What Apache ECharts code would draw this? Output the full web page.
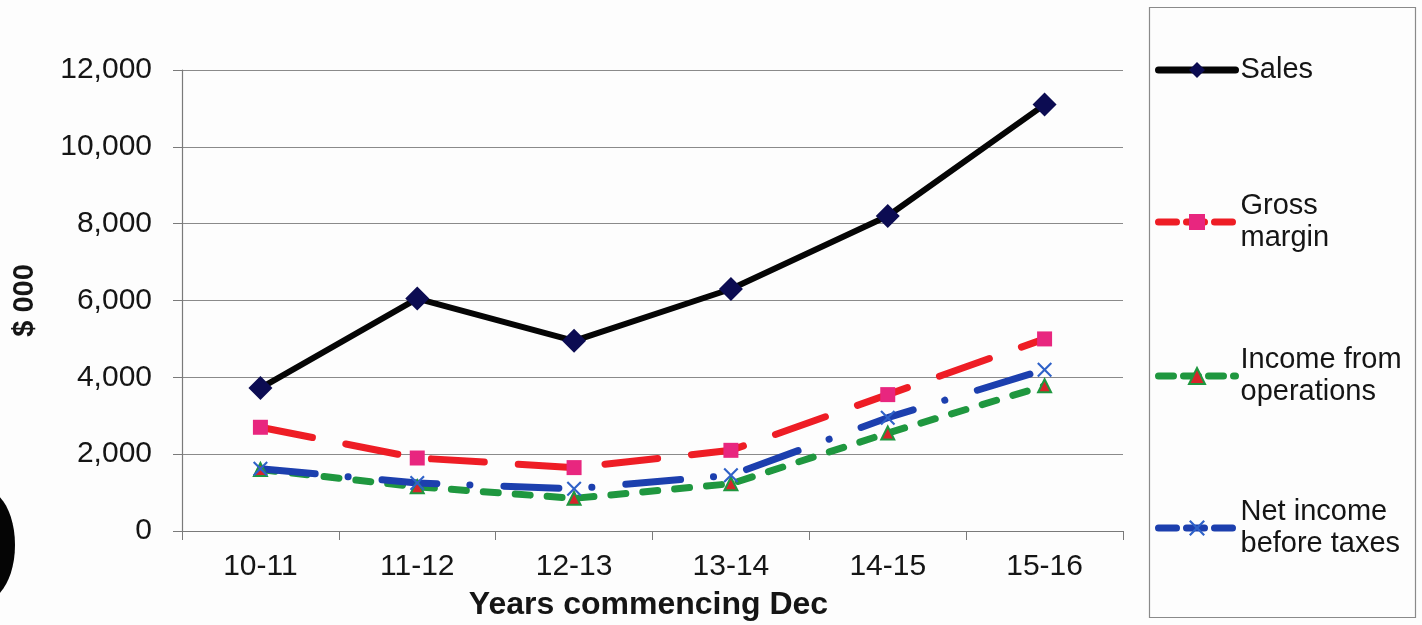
<!DOCTYPE html>
<html>
<head>
<meta charset="utf-8">
<title>Sales and income</title>
<script src="https://cdn.jsdelivr.net/npm/echarts@6/dist/echarts.min.js"></script>
<style>
  html, body { margin: 0; padding: 0; background: #fdfdfd; }
  #chart { width: 1422px; height: 625px; }
</style>
</head>
<body>
<div id="chart"></div>
<script>
// Years (commencing December)
const years = ['10-11', '11-12', '12-13', '13-14', '14-15', '15-16'];

// Values in $ 000
const sales = [3720, 6050, 4950, 6300, 8200, 11100];
const grossMargin = [2700, 1900, 1650, 2100, 3550, 5000];
const incomeFromOperations = [1600, 1150, 850, 1230, 2550, 3780];
const netIncomeBeforeTaxes = [1620, 1250, 1100, 1450, 2950, 4200];

// Y axis ticks
const yTicks = [0, 2000, 4000, 6000, 8000, 10000, 12000];

const FONT = '"Liberation Sans", Arial, sans-serif';
const TEXT = '#151515';

const chart = echarts.init(document.getElementById('chart'), null, { renderer: 'canvas' });

const crossPath = 'path://M0,1 L1,0 L5,4 L9,0 L10,1 L6,5 L10,9 L9,10 L5,6 L1,10 L0,9 L4,5 Z';

const seriesDefs = [
  {
    name: 'Sales', label: 'Sales', data: sales,
    color: '#050505', width: 6, type: 'solid',
    symbol: 'diamond', symbolSize: 24, markerFill: '#0c0c52', markerBorder: '#0c0c52', markerBorderWidth: 0,
    legendY: 70, lines: 1
  },
  {
    name: 'Gross margin', label: 'Gross\nmargin', data: grossMargin,
    color: '#ee1d25', width: 7, type: [53, 34],
    symbol: 'rect', symbolSize: 15, markerFill: '#e8267f', markerBorder: '#e8267f', markerBorderWidth: 0,
    legendY: 222, lines: 2
  },
  {
    name: 'Income from operations', label: 'Income from\noperations', data: incomeFromOperations,
    color: '#1f973f', width: 7, type: [15, 17],
    symbol: 'triangle', symbolSize: 13, markerFill: '#d6252a', markerBorder: '#1f973f', markerBorderWidth: 2,
    legendY: 376, lines: 2
  },
  {
    name: 'Net income before taxes', label: 'Net income\nbefore taxes', data: netIncomeBeforeTaxes,
    color: '#1c3fae', width: 7, type: [55, 33, 0.1, 34],
    symbol: crossPath, symbolSize: 15, markerFill: '#2f62c8', markerBorder: '#2f62c8', markerBorderWidth: 0,
    legendY: 528, lines: 2
  }
];

const series = seriesDefs.map(d => ({
  name: d.name,
  type: 'line',
  data: d.data,
  symbol: d.symbol,
  symbolSize: d.symbolSize,
  showAllSymbol: true,
  animation: false,
  lineStyle: { color: d.color, width: d.width, type: d.type, cap: 'round', join: 'round' },
  itemStyle: { color: d.markerFill, borderColor: d.markerBorder, borderWidth: d.markerBorderWidth }
}));

// One legend block per series, stacked down the framed box on the right
const LINE_H = 32;
const ITEM_H = 20;
const legends = seriesDefs.map(d => {
  const pad = d.lines > 1 ? LINE_H : 0;
  const blockH = pad + d.lines * LINE_H;
  const top = d.legendY - ITEM_H / 2 - Math.max(0, blockH / 2 - ITEM_H / 2);
  return {
    data: [d.name],
    left: 1155,
    top: top,
    padding: 0,
    itemWidth: 77,
    itemHeight: ITEM_H,
    selectedMode: false,
    formatter: () => d.label,
    itemStyle: { color: d.markerFill, borderColor: d.markerBorder, borderWidth: d.markerBorderWidth },
    lineStyle: { color: d.color, width: 7, type: d.type === 'solid' ? 'solid' : [Math.min(18, d.type[0]), 10], cap: 'round' },
    textStyle: {
      fontFamily: FONT, fontSize: 29, color: TEXT, lineHeight: LINE_H,
      padding: [pad, 0, 0, 0]
    }
  };
});

const option = {
  backgroundColor: '#fdfdfd',
  animation: false,
  grid: { left: 182, right: 299, top: 70, bottom: 94, outerBoundsMode: 'none', containLabel: false },
  legend: legends,
  xAxis: {
    type: 'category',
    data: years,
    boundaryGap: true,
    name: 'Years commencing Dec',
    nameLocation: 'middle',
    nameGap: 58,
    nameTextStyle: { fontFamily: FONT, fontSize: 32, fontWeight: 'bold', color: TEXT, padding: [0, 8, 0, 0] },
    axisLine: { lineStyle: { color: '#7a7a7a', width: 1.2 } },
    axisTick: { show: true, length: 9, alignWithLabel: false, lineStyle: { color: '#7a7a7a' } },
    axisLabel: { fontFamily: FONT, fontSize: 30, color: TEXT, margin: 21 },
    splitLine: { show: false }
  },
  yAxis: {
    type: 'value',
    min: yTicks[0],
    max: yTicks[yTicks.length - 1],
    interval: 2000,
    name: '$ 000',
    nameLocation: 'middle',
    nameGap: 143,
    nameRotate: 90,
    nameTextStyle: { fontFamily: FONT, fontSize: 29, fontWeight: 'bold', color: TEXT },
    axisLine: { show: true, lineStyle: { color: '#7a7a7a', width: 1.2 } },
    axisTick: { show: true, length: 9, inside: false, lineStyle: { color: '#7a7a7a' } },
    axisLabel: {
      fontFamily: FONT, fontSize: 30, color: TEXT, margin: 30,
      formatter: v => v.toLocaleString('en-US')
    },
    splitLine: { show: true, lineStyle: { color: '#8a8a8a', width: 1.2 } }
  },
  graphic: [
    {
      type: 'rect',
      shape: { x: 1149.5, y: 7.5, width: 266, height: 610 },
      style: { fill: 'none', stroke: '#8a8a8a', lineWidth: 1.2 },
      silent: true, z: -1
    },
    {
      type: 'ellipse',
      shape: { cx: -15, cy: 545, rx: 30, ry: 55 },
      style: { fill: '#050505' },
      silent: true
    }
  ],
  series: series
};

chart.setOption(option);
</script>
</body>
</html>
